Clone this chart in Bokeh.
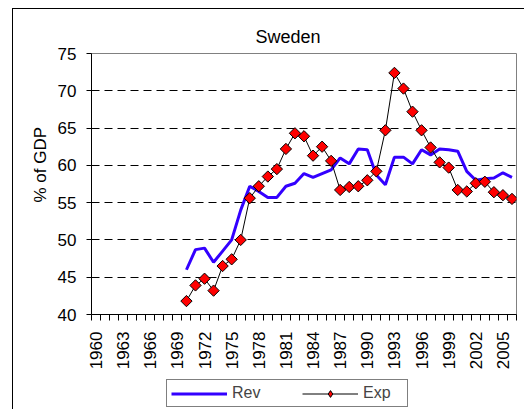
from math import pi
from bokeh.plotting import figure
from bokeh.layouts import column
from bokeh.models import FixedTicker, Legend, LegendItem, Title
from bokeh.embed import file_html
from bokeh.resources import INLINE

years = list(range(1970, 2007))
rev = [46.0, 48.7, 48.9, 47.0, 48.5, 50.0, 54.0, 57.2, 56.5, 55.7, 55.7, 57.2,
       57.6, 58.9, 58.4, 58.9, 59.4, 61.0, 60.2, 62.2, 62.1, 58.7, 57.4, 61.1,
       61.1, 60.2, 62.1, 61.4, 62.2, 62.1, 61.9, 59.2, 58.0, 58.2, 58.3, 59.0, 58.4]
exp = [41.8, 43.9, 44.8, 43.2, 46.5, 47.4, 50.0, 55.6, 57.2, 58.5, 59.5, 62.2,
       64.3, 63.9, 61.3, 62.5, 60.6, 56.7, 57.1, 57.2, 58.0, 59.2, 64.7, 72.4,
       70.3, 67.2, 64.7, 62.4, 60.4, 59.7, 56.7, 56.5, 57.6, 57.8, 56.4, 56.0, 55.5]
all_years = list(range(1960, 2007))
label_years = list(range(1960, 2006, 3))
tick_labels = [str(y) for y in label_years]
y_ticks = [40, 45, 50, 55, 60, 65, 70, 75]

FONT = "Liberation Sans"
REV_COLOR = "#3300ff"
EXP_FILL = "#ff0000"

# chart-area frame (Excel style) drawn as CSS background behind transparent canvas
FRAME_BG_TOP = ("linear-gradient(#000, #000) 12px 8px / 1px 100% no-repeat, "
                "linear-gradient(#000, #000) 12px 8px / 100% 1px no-repeat, white")
FRAME_BG_BOT = "linear-gradient(#000, #000) 12px 0px / 1px 100% no-repeat, white"

p = figure(width=524, height=372, x_range=(1959.5, 2006.5), y_range=(40, 75),
           output_backend="svg", toolbar_location=None,
           min_border_left=91, min_border_right=8, min_border_top=53,
           min_border_bottom=57, styles={"background": FRAME_BG_TOP})
p.background_fill_color = "white"
p.border_fill_color = None
p.outline_line_color = "#808080"
p.outline_line_width = 1

p.title.text = "Sweden"
p.title.align = "left"
p.title.offset = 164
p.title.standoff = 14
p.title.text_font = FONT
p.title.text_font_size = "18px"
p.title.text_font_style = "normal"
p.title.text_color = "black"

# x axis
p.xaxis.ticker = FixedTicker(ticks=label_years,
                             minor_ticks=[y - 0.5 for y in all_years + [2007]])
p.xaxis.major_label_overrides = {y: s for y, s in zip(label_years, tick_labels)}
p.xaxis.major_label_orientation = pi / 2
p.xaxis.major_tick_out = 0
p.xaxis.major_tick_in = 0
p.xaxis.minor_tick_out = 6
p.xaxis.minor_tick_in = 0
p.xaxis.minor_tick_line_color = "black"
p.xaxis.major_label_standoff = 11
p.xaxis.major_label_text_font = FONT
p.xaxis.major_label_text_font_size = "17px"
p.xaxis.major_label_text_color = "black"
p.xaxis.axis_line_color = "black"

# y axis
p.yaxis.ticker = FixedTicker(ticks=y_ticks, minor_ticks=[])
p.yaxis.major_tick_out = 5
p.yaxis.major_tick_in = 0
p.yaxis.minor_tick_out = 0
p.yaxis.major_label_standoff = 10
p.yaxis.major_label_text_font = FONT
p.yaxis.major_label_text_font_size = "17px"
p.yaxis.major_label_text_color = "black"
p.yaxis.axis_line_color = "black"

ylab = Title(text="% of GDP", align="left", offset=112, standoff=10,
             text_font=FONT, text_font_size="17px", text_font_style="normal",
             text_color="black")
p.add_layout(ylab, "left")

p.xgrid.visible = False
p.ygrid.ticker = FixedTicker(ticks=[45, 50, 55, 60, 65, 70])
p.ygrid.grid_line_color = "black"
p.ygrid.grid_line_dash = "8 5"
p.ygrid.grid_line_width = 1

p.line(years, rev, line_color=REV_COLOR, line_width=3)
p.line(years, exp, line_color="black", line_width=1)
p.scatter(years, exp, marker="square", angle=pi / 4, size=8,
          fill_color=EXP_FILL, line_color="black", line_width=1)

# legend strip below the chart (its glyph renderers lie outside its view range)
lg = figure(width=524, height=37, x_range=(0, 1), y_range=(0, 1),
            output_backend="svg", toolbar_location=None,
            min_border_left=0, min_border_right=0, min_border_top=0,
            min_border_bottom=0, styles={"background": FRAME_BG_BOT})
lg.axis.visible = False
lg.grid.visible = False
lg.outline_line_color = None
lg.background_fill_color = None
lg.border_fill_color = None
l_rev = lg.line(years, rev, line_color=REV_COLOR, line_width=3)
l_exp = lg.line(years, exp, line_color="black", line_width=1)
l_pts = lg.scatter(years, exp, marker="diamond", size=13,
                   fill_color=EXP_FILL, line_color="black", line_width=1)
legend = Legend(items=[LegendItem(label="Rev", renderers=[l_rev]),
                       LegendItem(label="Exp", renderers=[l_exp, l_pts])],
                orientation="horizontal", location=(75, 2),
                glyph_width=56, glyph_height=17, label_height=17,
                label_standoff=5, spacing=30,
                padding=4, margin=0, label_width=40,
                label_text_font=FONT, label_text_font_size="16px",
                border_line_color="black", border_line_width=1,
                background_fill_color="white", background_fill_alpha=1)
lg.add_layout(legend, "center")

layout = column(p, lg, spacing=0)
open("out.html", "w").write(file_html(layout, INLINE))
